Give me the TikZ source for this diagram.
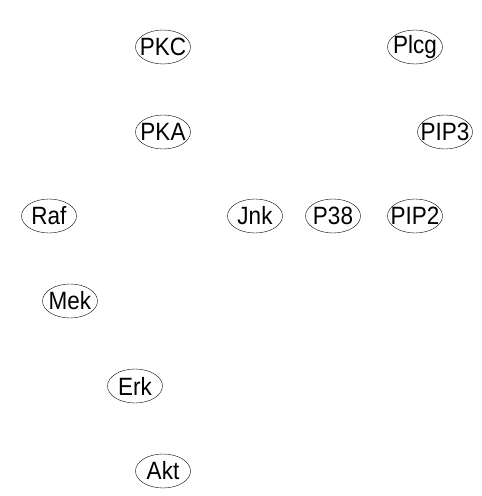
\documentclass[tikz,border=0pt]{standalone}
\usepackage{fontspec}
\newfontfamily\labelfont[FakeStretch=0.9]{Liberation Sans}
\usetikzlibrary{shapes.geometric}
\tikzset{protein/.style={draw,ellipse,thin,inner sep=-8pt,minimum width=55pt,minimum height=34pt,font=\labelfont\fontsize{25}{25}\selectfont}}
\begin{document}
\begin{tikzpicture}[x=1pt,y=1pt]
    \useasboundingbox (0,0) rectangle (482,496);
    \node[protein] (PKC) at (163,449) {PKC};
    \node[protein] (Plcg) at (415,449) {Plcg};
    \node[protein] (PKA) at (163,364) {PKA};
    \node[protein] (PIP3) at (445,364) {PIP3};
    \node[protein] (Raf) at (49,280) {Raf};
    \node[protein] (Jnk) at (255,280) {Jnk};
    \node[protein] (P38) at (333,280) {P38};
    \node[protein] (PIP2) at (415,280) {PIP2};
    \node[protein] (Mek) at (70,195) {Mek};
    \node[protein] (Erk) at (135,110) {Erk};
    \node[protein] (Akt) at (163,25) {Akt};
  \end{tikzpicture}
\end{document}
